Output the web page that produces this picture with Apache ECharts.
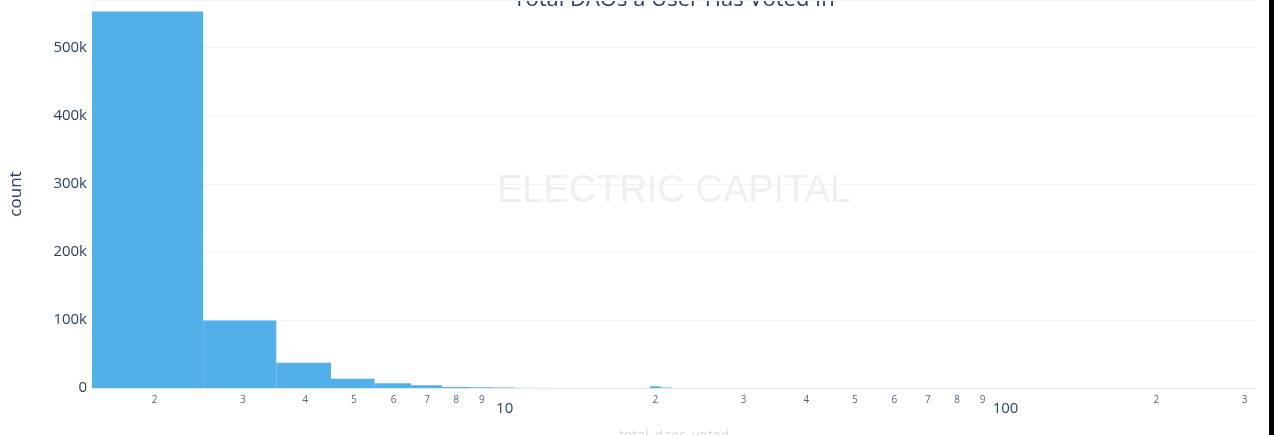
<!DOCTYPE html>
<html>
<head>
<meta charset="utf-8">
<script src="https://cdn.jsdelivr.net/npm/echarts@6/dist/echarts.min.js"></script>
<style>html,body{margin:0;padding:0;background:#fff}#chart{width:1274px;height:435px}</style>
</head>
<body>
<div id="chart"></div>
<script>
// ---- data ----
const daoCounts = [2, 3, 4, 5, 6, 7, 8, 9, 10, 11, 12, 13, 14, 15, 20, 21];
const userCounts = [553000, 99000, 37000, 13500, 6800, 4000, 1500, 1100, 800, 150, 120, 90, 70, 50, 2500, 800];
const minorTicks = [2, 3, 4, 5, 6, 7, 8, 9, 20, 30, 40, 50, 60, 70, 80, 90, 200, 300];
const majorTicks = [10, 100];
const yTicks = [0, 100000, 200000, 300000, 400000, 500000];

const chart = echarts.init(document.getElementById('chart'), null, {renderer: 'canvas'});
const lg = v => Math.log10(v);
const txt = '#2a3f5f';

chart.setOption({
  animation: false,
  backgroundColor: '#ffffff',
  grid: {left: 92, right: 18, top: 0, bottom: 47, containLabel: false, outerBoundsMode: 'none'},
  xAxis: [
    {
      type: 'value', min: lg(1.5), max: 2.5,
      axisLine: {show: true, lineStyle: {color: '#e3e7ee', width: 1}},
      axisTick: {show: false},
      splitLine: {show: false},
      axisLabel: {
        customValues: minorTicks.map(lg),
        formatter: v => String(Math.round(Math.pow(10, v))).charAt(0),
        fontSize: 10, color: '#506784', margin: 7, fontFamily: 'Open Sans'
      },
      name: 'total_daos_voted', nameLocation: 'middle', nameGap: 41,
      nameTextStyle: {fontSize: 14, color: '#d6dbe3', fontFamily: 'Open Sans'}
    },
    {
      type: 'value', min: lg(1.5), max: 2.5, position: 'bottom',
      axisLine: {show: false}, axisTick: {show: false}, splitLine: {show: false},
      axisLabel: {
        customValues: majorTicks.map(lg),
        formatter: v => String(Math.round(Math.pow(10, v))),
        fontSize: 15, color: txt, margin: 13, fontFamily: 'Open Sans'
      }
    }
  ],
  yAxis: {
    type: 'value', min: 0, max: 570000, interval: 100000,
    axisLine: {show: false}, axisTick: {show: false},
    splitLine: {show: true, lineStyle: {color: '#f0f2f6', width: 1}},
    axisLabel: {
      customValues: yTicks,
      formatter: v => v === 0 ? '0' : (v / 1000) + 'k',
      fontSize: 15, color: txt, margin: 5, fontFamily: 'Open Sans'
    },
    name: 'count', nameLocation: 'middle', nameGap: 67,
    nameTextStyle: {fontSize: 17, color: txt, fontFamily: 'Open Sans'}
  },
  graphic: [
    {type: 'text', z: -1, style: {text: 'ELECTRIC CAPITAL', x: 674, y: 192, align: 'center', verticalAlign: 'middle', fontSize: 38, fontFamily: 'Liberation Sans', fill: '#efefef'}},
    {type: 'text', style: {text: 'Total DAOs a User Has Voted In', x: 674, y: 0, align: 'center', verticalAlign: 'middle', fontSize: 22, fontFamily: 'Open Sans', fill: txt}},
    {type: 'rect', shape: {x: 1269, y: 0, width: 5, height: 435}, style: {fill: '#000'}}
  ],
  series: [{
    type: 'custom',
    xAxisIndex: 0,
    data: daoCounts.map((d, i) => [d, userCounts[i]]),
    renderItem: (params, api) => {
      const d = api.value(0), c = api.value(1);
      const p0 = api.coord([lg(d - 0.5), 0]);
      const p1 = api.coord([lg(d + 0.5), c]);
      return {type: 'rect', shape: {x: p0[0], y: p1[1], width: p1[0] - p0[0], height: p0[1] - p1[1]}, style: {fill: '#52b0e8'}};
    },
    encode: {x: 0, y: 1}
  }]
});
</script>
</body>
</html>
